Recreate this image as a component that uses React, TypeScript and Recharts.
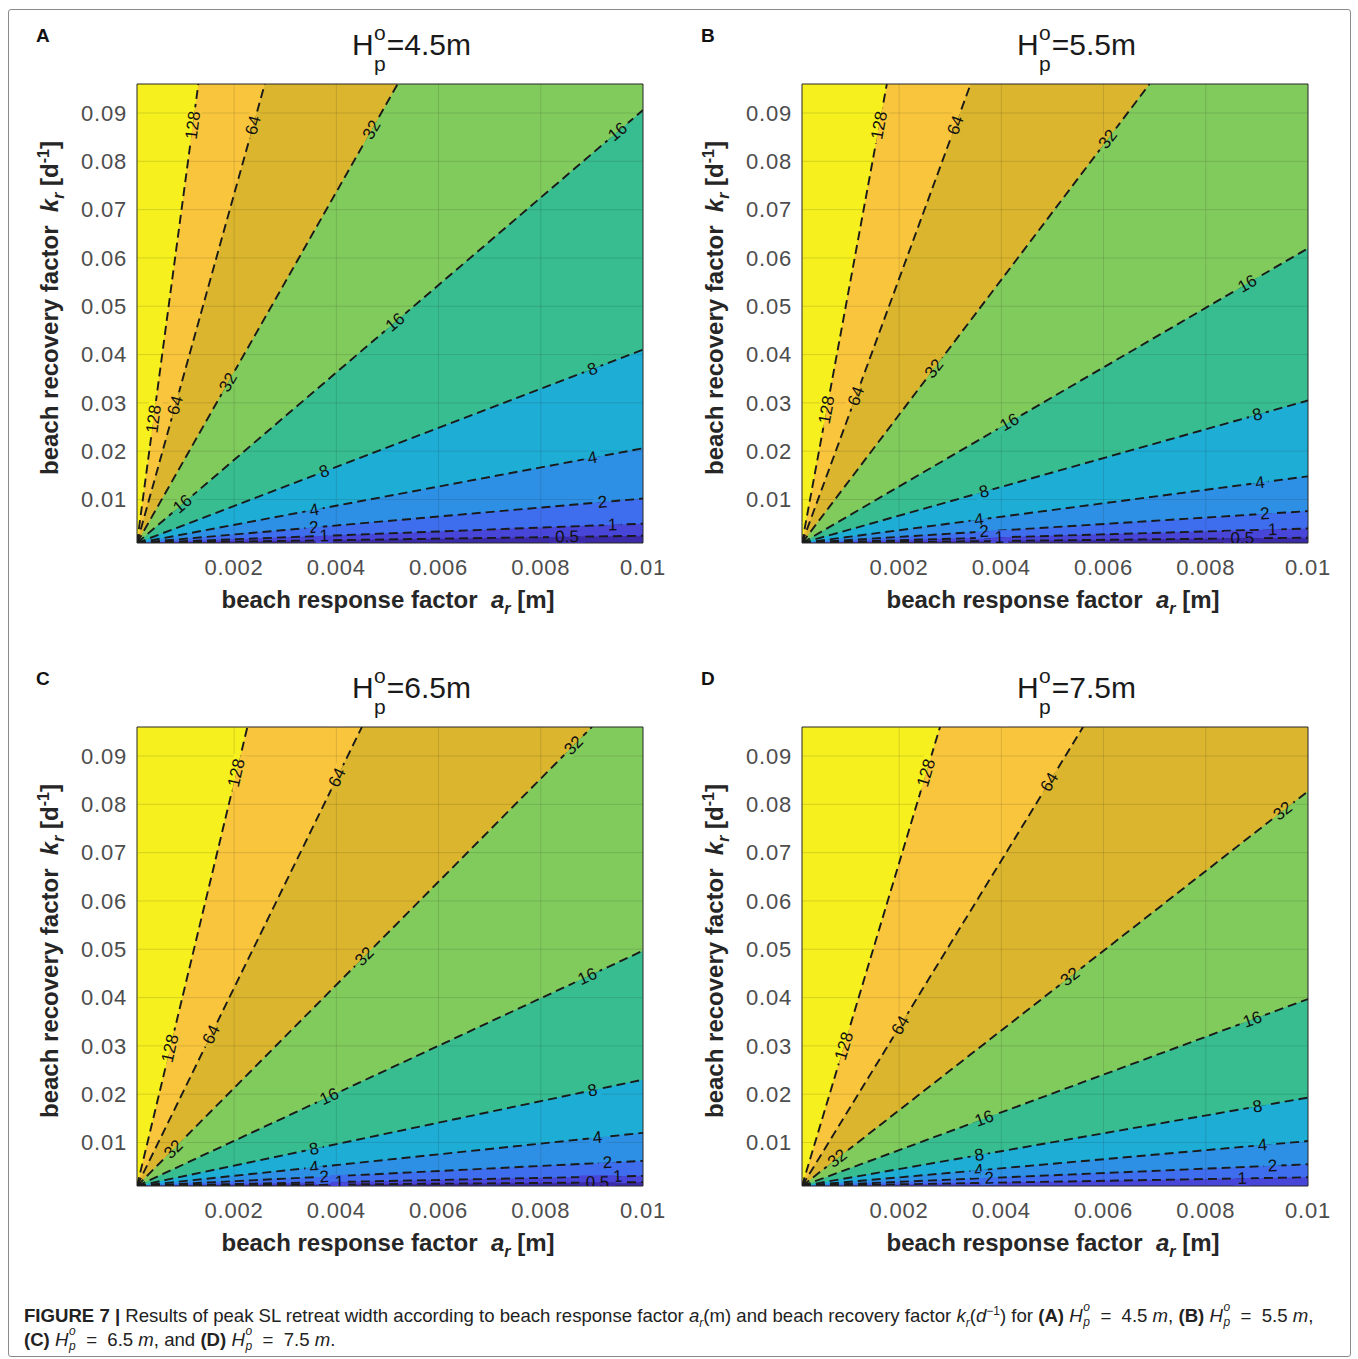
import React from 'react';
import { ComposedChart, Area, Line, XAxis, YAxis, ReferenceLine } from 'recharts';

// ---------- axes ----------
const X_MIN = 0.0001;
const X_MAX = 0.01;
const Y_MIN = 0.001;
const Y_MAX = 0.096;
const xTicks = [0.002, 0.004, 0.006, 0.008, 0.01];
const yTicks = [0.01, 0.02, 0.03, 0.04, 0.05, 0.06, 0.07, 0.08, 0.09];

// ---------- contour levels ----------
const levelsABC = ['128', '64', '32', '16', '8', '4', '2', '1', '0.5'];
const levelsD = ['128', '64', '32', '16', '8', '4', '2', '1'];

// ---------- panel A (H=4.5 m): contour end points (a_r, k_r) ----------
const endA_A = [0.0013, 0.0026, 0.0052, 0.01, 0.01, 0.01, 0.01, 0.01, 0.01];
const endK_A = [0.096, 0.096, 0.096, 0.0906, 0.041, 0.0206, 0.0102, 0.005, 0.0025];
const labT_A = [[0.91, 0.27], [0.91, 0.3], [0.9, 0.35], [0.95, 0.51, 0.09], [0.9, 0.37], [0.9, 0.35], [0.92, 0.35], [0.94, 0.37], [0.85]];

// ---------- panel B (H=5.5 m) ----------
const endA_B = [0.00176, 0.0034, 0.0069, 0.01, 0.01, 0.01, 0.01, 0.01, 0.01];
const endK_B = [0.096, 0.096, 0.096, 0.062, 0.0305, 0.0148, 0.0076, 0.004, 0.0021];
const labT_B = [[0.91, 0.29], [0.91, 0.32], [0.88, 0.38], [0.88, 0.41], [0.9, 0.36], [0.905, 0.35], [0.915, 0.36], [0.93, 0.39], [0.87]];

// ---------- panel C (H=6.5 m) ----------
const endA_C = [0.00226, 0.0045, 0.009, 0.01, 0.01, 0.01, 0.01, 0.01, 0.01];
const endK_C = [0.096, 0.096, 0.096, 0.0497, 0.023, 0.012, 0.0062, 0.0031, 0.0018];
const labT_C = [[0.9, 0.3], [0.89, 0.33], [0.96, 0.5, 0.08], [0.89, 0.38], [0.9, 0.35], [0.91, 0.35], [0.93, 0.37], [0.95, 0.4], [0.91]];

// ---------- panel D (H=7.5 m) ----------
const endA_D = [0.0028, 0.0056, 0.01, 0.01, 0.01, 0.01, 0.01, 0.01];
const endK_D = [0.096, 0.096, 0.0827, 0.0397, 0.0193, 0.0103, 0.0055, 0.0028];
const labT_D = [[0.9, 0.305], [0.88, 0.35], [0.95, 0.53, 0.07], [0.89, 0.36], [0.9, 0.35], [0.91, 0.35], [0.93, 0.37], [0.87]];

const panelLetters = ['A', 'B', 'C', 'D'];
const panelH = ['4.5', '5.5', '6.5', '7.5'];

// ---------- style ----------
const regionColors = ['#f5f01e', '#f9c53c', '#dbb52d', '#80cb5c', '#37bd8f', '#1eadd5', '#2d90e4', '#3e6ded', '#4845d9', '#3b2ba8'];
const FONT = '"Liberation Sans", Arial, Helvetica, sans-serif';
const panelOffsets = [[0, 0], [665, 0], [0, 643], [665, 643]];

type Panel = { endA: number[]; endK: number[]; labT: number[][]; levels: string[] };
const panels: Panel[] = [
  { endA: endA_A, endK: endK_A, labT: labT_A, levels: levelsABC },
  { endA: endA_B, endK: endK_B, labT: labT_B, levels: levelsABC },
  { endA: endA_C, endK: endK_C, labT: labT_C, levels: levelsABC },
  { endA: endA_D, endK: endK_D, labT: labT_D, levels: levelsD },
];

function areaData(a: number, k: number) {
  const pts = [{ a: X_MIN, k: Y_MIN }, { a, k }];
  if (a < X_MAX) pts.push({ a: X_MAX, k: Y_MAX });
  return pts;
}

function makeLabelDot(ts: number[], text: string, upper: string, lower: string) {
  let p0: { x: number; y: number } | null = null;
  return (props: any) => {
    const { cx, cy, index } = props;
    if (index === 0) {
      p0 = { x: cx, y: cy };
      return <g key={`d-${index}`} />;
    }
    if (!p0) return <g key={`d-${index}`} />;
    const dx = cx - p0.x;
    const dy = cy - p0.y;
    const ang = (Math.atan2(dy, dx) * 180) / Math.PI;
    const w = text.length * 9.5 + 8;
    const h = 14;
    const o = p0;
    return (
      <g key={`d-${index}`}>
        {ts.map((t, i) => {
          const x = o.x + t * dx;
          const y = o.y + t * dy;
          return (
            <g key={i} transform={`translate(${x},${y}) rotate(${ang})`}>
              <rect x={-w / 2} y={-h / 2} width={w} height={h / 2} fill={upper} />
              <rect x={-w / 2} y={0} width={w} height={h / 2} fill={lower} />
              <text x={0} y={0} textAnchor="middle" dominantBaseline="central" fontSize={17} fontFamily={FONT} fill="#111">
                {text}
              </text>
            </g>
          );
        })}
      </g>
    );
  };
}

const tickStyle = { fontSize: 22, fill: '#4d4d4d', fontFamily: FONT, letterSpacing: 0.8 };

function ContourPanel({ p }: { p: Panel }) {
  return (
    <ComposedChart width={690} height={640} margin={{ top: 84, right: 47, bottom: 57, left: 67 }}>
      <XAxis
        type="number"
        dataKey="a"
        domain={[X_MIN, X_MAX]}
        ticks={xTicks}
        allowDataOverflow
        height={40}
        tickLine={false}
        tickSize={0}
        tickMargin={16}
        axisLine={{ stroke: '#262626' }}
        tick={tickStyle}
        tickFormatter={(v: number) => String(v)}
      />
      <YAxis
        type="number"
        dataKey="k"
        domain={[Y_MIN, Y_MAX]}
        ticks={yTicks}
        allowDataOverflow
        width={70}
        tickLine={false}
        tickSize={0}
        tickMargin={10}
        axisLine={{ stroke: '#262626' }}
        tick={tickStyle}
        tickFormatter={(v: number) => String(v)}
      />
      <Area
        data={[{ a: X_MIN, k: Y_MAX }, { a: X_MAX, k: Y_MAX }]}
        dataKey="k"
        type="linear"
        stroke="none"
        fill={regionColors[0]}
        fillOpacity={1}
        dot={false}
        activeDot={false}
        isAnimationActive={false}
      />
      {p.levels.map((lv, i) => (
        <Area
          key={`area-${lv}`}
          data={areaData(p.endA[i], p.endK[i])}
          dataKey="k"
          type="linear"
          stroke="none"
          fill={regionColors[i + 1]}
          fillOpacity={1}
          dot={false}
          activeDot={false}
          isAnimationActive={false}
        />
      ))}
      {xTicks.slice(0, -1).map((t) => (
        <ReferenceLine key={`gx-${t}`} x={t} stroke="#262626" strokeOpacity={0.15} />
      ))}
      {yTicks.map((t) => (
        <ReferenceLine key={`gy-${t}`} y={t} stroke="#262626" strokeOpacity={0.15} />
      ))}
      <ReferenceLine x={X_MAX} stroke="#262626" />
      <ReferenceLine y={Y_MAX} stroke="#262626" />
      {p.levels.map((lv, i) => (
        <Line
          key={`line-${lv}`}
          data={[{ a: X_MIN, k: Y_MIN }, { a: p.endA[i], k: p.endK[i] }]}
          dataKey="k"
          type="linear"
          stroke="#1a1a1a"
          strokeWidth={1.9}
          strokeDasharray="9 5"
          dot={makeLabelDot(p.labT[i], lv, regionColors[i], regionColors[i + 1])}
          activeDot={false}
          isAnimationActive={false}
        />
      ))}
    </ComposedChart>
  );
}

function TitleH({ h }: { h: string }) {
  return (
    <div style={{ position: 'relative', fontSize: 30, lineHeight: '32px', whiteSpace: 'nowrap', color: '#1a1a1a' }}>
      <span>H</span>
      <span style={{ display: 'inline-block', width: 13 }} />
      <span>={h}m</span>
      <span style={{ position: 'absolute', left: 22, top: -7, fontSize: 21, lineHeight: 1 }}>o</span>
      <span style={{ position: 'absolute', left: 22, top: 24, fontSize: 21, lineHeight: 1 }}>p</span>
    </div>
  );
}

function CapH() {
  return (
    <span style={{ display: 'inline-block', position: 'relative', width: 26, lineHeight: 1 }}>
      <i>H</i>
      <span style={{ position: 'absolute', left: 14, top: -6, fontSize: 12, lineHeight: 1 }}><i>o</i></span>
      <span style={{ position: 'absolute', left: 14, top: 9, fontSize: 12, lineHeight: 1 }}><i>p</i></span>
    </span>
  );
}

const subStyle = { fontSize: 12, lineHeight: 0 };

export default function App() {
  return (
    <div style={{ position: 'absolute', left: 0, top: 0, width: 1358, height: 1359, background: '#fff', fontFamily: FONT, color: '#1a1a1a' }}>
      <div style={{ position: 'absolute', left: 8, top: 9, width: 1341, height: 1346, border: '1px solid #8a8a8a', borderRadius: 3 }} />
      {panels.map((p, idx) => {
        const [ox, oy] = panelOffsets[idx];
        return (
          <React.Fragment key={idx}>
            <div style={{ position: 'absolute', left: ox, top: oy }}>
              <ContourPanel p={p} />
            </div>
            <div style={{ position: 'absolute', left: ox + 36, top: oy + 25, fontSize: 19, fontWeight: 'bold', color: '#111' }}>{panelLetters[idx]}</div>
            <div style={{ position: 'absolute', left: ox + 352, top: oy + 29 }}>
              <TitleH h={panelH[idx]} />
            </div>
            <div style={{ position: 'absolute', left: ox + 188, top: oy + 585, width: 400, textAlign: 'center', fontSize: 24, lineHeight: '30px', fontWeight: 'bold', color: '#262626', whiteSpace: 'nowrap' }}>
              beach response factor&nbsp; <i>a</i><sub style={{ fontSize: 16, lineHeight: 0 }}><i>r</i></sub> [m]
            </div>
            <div style={{ position: 'absolute', left: ox + 50 - 200, top: oy + 308 - 15, width: 400, height: 30, lineHeight: '30px', transform: 'rotate(-90deg)', textAlign: 'center', fontSize: 24, fontWeight: 'bold', color: '#262626', whiteSpace: 'nowrap' }}>
              beach recovery factor&nbsp; <i>k</i><sub style={{ fontSize: 16, lineHeight: 0 }}><i>r</i></sub> [d<sup style={{ fontSize: 16, lineHeight: 0 }}>-1</sup>]
            </div>
          </React.Fragment>
        );
      })}
      <div style={{ position: 'absolute', left: 24, top: 1304, fontFamily: '"Liberation Sans Narrow", "Arial Narrow", "Liberation Sans", sans-serif', fontSize: 18.6, lineHeight: '24px', color: '#222', whiteSpace: 'nowrap' }}>
        <div style={{ height: 24 }}>
          <b>FIGURE 7 |</b> Results of peak SL retreat width according to beach response factor <i>a</i><sub style={subStyle}><i>r</i></sub>(m) and beach recovery factor <i>k</i><sub style={subStyle}><i>r</i></sub>(<i>d</i><sup style={subStyle}>−1</sup>) for <b>(A)</b> <CapH /> = &nbsp;4.5 <i>m</i>, <b>(B)</b> <CapH /> = &nbsp;5.5 <i>m</i>,
        </div>
        <div style={{ height: 24 }}>
          <b>(C)</b> <CapH /> = &nbsp;6.5 <i>m</i>, and <b>(D)</b> <CapH /> = &nbsp;7.5 <i>m</i>.
        </div>
      </div>
    </div>
  );
}
